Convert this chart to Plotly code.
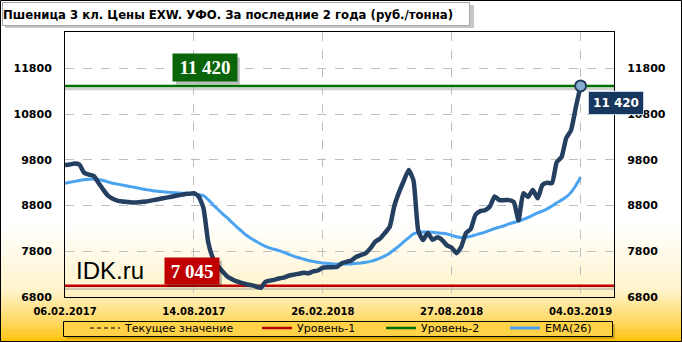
import plotly.graph_objects as go

# ---------------- data ----------------
tick_labels = ["06.02.2017", "14.08.2017", "26.02.2018", "27.08.2018", "04.03.2019"]
tick_index = [0, 27, 54, 81, 108]

price = [
    9690, 9700, 9720, 9700, 9520, 9480, 9450, 9300, 9150, 9020,
    8950, 8910, 8890, 8880, 8870, 8870, 8880, 8890, 8910, 8930,
    8950, 8970, 8990, 9010, 9030, 9050, 9060, 9070, 9000, 8750,
    8000, 7650, 7480, 7360, 7250, 7190, 7140, 7110, 7080, 7060,
    7030, 7000, 7130, 7160, 7180, 7210, 7230, 7270, 7290, 7310,
    7330, 7320, 7360, 7380, 7440, 7450, 7450, 7460, 7540, 7570,
    7600, 7680, 7720, 7760, 7870, 8010, 8080, 8200, 8330, 8800,
    9100, 9350, 9580, 9350, 8250, 8050, 8200, 8050, 8110, 8050,
    7930, 7880, 7760, 7900, 8200, 8290, 8600, 8680, 8700, 8780,
    9000, 8920, 8920, 8920, 8880, 8480, 9070, 8990, 9140, 8960,
    9250, 9300, 9290, 9750, 9860, 10280, 10450, 10950, 11420,
]

ema26 = [
    9290, 9310, 9330, 9350, 9365, 9375, 9380, 9370, 9350, 9320,
    9290, 9270, 9250, 9230, 9210, 9190, 9170, 9150, 9135, 9120,
    9110, 9100, 9090, 9080, 9075, 9070, 9060, 9050, 9040, 9020,
    8930, 8820, 8720, 8620, 8530, 8430, 8330, 8240, 8150, 8080,
    8020, 7960, 7910, 7870, 7840, 7810, 7770, 7730, 7690, 7660,
    7630, 7600, 7580, 7560, 7545, 7535, 7525, 7520, 7520, 7520,
    7525, 7535, 7545, 7560, 7580, 7610, 7650, 7700, 7760, 7840,
    7920, 8010, 8100, 8180, 8210, 8220, 8220, 8215, 8205, 8195,
    8180, 8150, 8120, 8100, 8110, 8130, 8160, 8190, 8220, 8260,
    8300, 8330, 8360, 8400, 8430, 8460, 8500, 8540, 8590, 8640,
    8680, 8730, 8790, 8860, 8920, 8990, 9090, 9240, 9420,
]

level_1 = 7045
level_2 = 11420
current_value = 11420

title_text = "Пшеница 3 кл. Цены EXW. УФО. За последние 2 года (руб./тонна)"

# ---------------- geometry ----------------
W, H = 682, 342
ML, MR, MT, MB = 65, 68, 32, 45
PW, PH = W - ML - MR, H - MT - MB
X_MIN, X_MAX = 0, 115
Y_MIN, Y_MAX = 6800, 12600


def px(x):
    return (x - ML) / PW


def py(y):
    return (H - MB - y) / PH


weeks = list(range(len(price)))
x_span = [X_MIN, X_MAX]

NAVY = "#243F60"
BLUE = "#4AA3F0"
RED = "#C00000"
GREEN = "#007000"

fig = go.Figure()

# level lines and current value
fig.add_trace(go.Scatter(x=x_span, y=[current_value] * 2, mode="lines",
                         line=dict(color="#000000", width=1, dash="4px,3px"),
                         name="Текущее значение", legendwidth=127, hoverinfo="skip"))
fig.add_trace(go.Scatter(x=x_span, y=[level_1] * 2, mode="lines",
                         line=dict(color=RED, width=2.5),
                         name="Уровень-1", legendwidth=79, hoverinfo="skip"))
fig.add_trace(go.Scatter(x=x_span, y=[level_2] * 2, mode="lines",
                         line=dict(color=GREEN, width=2.5),
                         name="Уровень-2", legendwidth=79, hoverinfo="skip"))
fig.add_trace(go.Scatter(x=weeks, y=ema26, mode="lines",
                         line=dict(color=BLUE, width=3, shape="spline", smoothing=0.6),
                         name="EMA(26)"))
fig.add_trace(go.Scatter(x=weeks, y=price, mode="lines",
                         line=dict(color=NAVY, width=4.5, shape="spline", smoothing=0.5),
                         name="Цена", showlegend=False))
fig.add_trace(go.Scatter(x=[weeks[-1]], y=[price[-1]], mode="markers",
                         marker=dict(size=11, color="#86ADD0",
                                     line=dict(color=NAVY, width=2)),
                         showlegend=False))
# right axis companion
fig.add_trace(go.Scatter(x=[weeks[0]], y=[None], yaxis="y2", showlegend=False,
                         mode="lines", hoverinfo="skip"))

shapes = []


# background gradient (white -> gold at the bottom)
def grad_color(t):
    stops = [(0.0, (255, 255, 255)), (0.55, (255, 244, 204)),
             (0.85, (255, 214, 90)), (1.0, (255, 192, 0))]
    for (t0, c0), (t1, c1) in zip(stops[:-1], stops[1:]):
        if t <= t1:
            f = (t - t0) / (t1 - t0)
            return "rgb(%d,%d,%d)" % tuple(round(a + (b - a) * f) for a, b in zip(c0, c1))
    return "rgb(255,192,0)"


G0, G1, N = 225, 342, 60
for i in range(N):
    ya = G0 + (G1 - G0) * i / N
    yb = G0 + (G1 - G0) * (i + 1) / N + 0.6
    shapes.append(dict(type="rect", xref="paper", yref="paper",
                       x0=px(0), x1=px(W), y0=py(ya), y1=py(yb),
                       fillcolor=grad_color((i + 0.5) / N), line=dict(width=0),
                       layer="below"))

# shadows under the level lines
for lv in (level_1, level_2):
    shapes.append(dict(type="line", xref="x", yref="y", x0=X_MIN, x1=X_MAX,
                       ysizemode="pixel", yanchor=lv, y0=-3, y1=-3,
                       line=dict(color="rgba(120,120,120,0.35)", width=2.5),
                       layer="below"))

# title box shadow + legend box shadow + borders
shapes.append(dict(type="rect", xref="paper", yref="paper",
                   x0=px(5), x1=px(474), y0=py(5), y1=py(28),
                   fillcolor="rgba(0,0,0,0.22)", line=dict(width=0), layer="below"))
shapes.append(dict(type="rect", xref="paper", yref="paper",
                   x0=px(66), x1=px(615), y0=py(324), y1=py(339),
                   fillcolor="rgba(90,60,0,0.25)", line=dict(width=0), layer="below"))
shapes.append(dict(type="rect", xref="paper", yref="paper",
                   x0=px(63.5), x1=px(612.5), y0=py(321.5), y1=py(336.5),
                   fillcolor=grad_color((328 - G0) / (G1 - G0)),
                   line=dict(color="#000000", width=1), layer="below"))
shapes.append(dict(type="rect", xref="paper", yref="paper",
                   x0=px(0.5), x1=px(W - 0.5), y0=py(0.5), y1=py(H - 0.5),
                   line=dict(color="#000000", width=1)))

annotations = []
# title
annotations.append(dict(xref="paper", yref="paper", x=px(2), y=py(2),
                        xanchor="left", yanchor="top", showarrow=False,
                        text="<b>" + title_text + "</b>", align="left",
                        width=466, height=22, borderpad=0,
                        bgcolor="#FFFFFF", bordercolor="#A6A6A6", borderwidth=1,
                        font=dict(family="DejaVu Sans Condensed, DejaVu Sans", size=13,
                                  color="#000000")))
# watermark
annotations.append(dict(xref="paper", yref="paper", x=px(74), y=py(270),
                        xanchor="left", yanchor="middle", showarrow=False,
                        text="IDK.ru",
                        font=dict(family="Liberation Sans, Arial", size=24, color="#000000")))


def boxed(x, y, text, bg, xs, ys, w, h, font):
    # soft drop shadow drawn as a pixel-sized shape anchored at the label point
    shapes.append(dict(type="rect", xref="x", yref="y",
                       xsizemode="pixel", xanchor=x,
                       x0=xs + 3 - w / 2 - 1, x1=xs + 3 + w / 2 + 1,
                       ysizemode="pixel", yanchor=y,
                       y0=ys - 3 - h / 2 - 1, y1=ys - 3 + h / 2 + 1,
                       fillcolor="rgba(0,0,0,0.25)", line=dict(width=0),
                       layer="above"))
    annotations.append(dict(x=x, y=y, xref="x", yref="y", showarrow=False,
                            text=text, xshift=xs, yshift=ys, width=w, height=h,
                            bgcolor=bg, font=font))


serif = dict(family="Liberation Serif, DejaVu Serif", size=19, color="#FFFFFF",
             weight="bold")
boxed(29.3, level_2, "11 420", "#0A640A", 0, 18, 62, 25, serif)
boxed(26.6, level_1, "7 045", RED, 0, 15, 52, 24, serif)
annotations.append(dict(x=weeks[-1], y=price[-1], xref="x", yref="y",
                        showarrow=False, text="11 420", xshift=35, yshift=-17,
                        width=52, height=20, bgcolor="#17375E",
                        bordercolor="#C9D6E6", borderwidth=1,
                        font=dict(family="DejaVu Sans", size=12, color="#FFFFFF",
                                  weight="bold")))

tickfont = dict(family="DejaVu Sans", size=11, color="#000000", weight="bold")

fig.update_layout(
    width=W, height=H,
    margin=dict(l=ML, r=MR, t=MT, b=MB, autoexpand=False),
    paper_bgcolor="#FFFFFF",
    plot_bgcolor="rgba(0,0,0,0)",
    showlegend=True,
    legend=dict(orientation="h", x=px(85), xanchor="left", y=py(328),
                yanchor="middle", bgcolor="rgba(0,0,0,0)", borderwidth=0,
                itemwidth=30, traceorder="normal",
                font=dict(family="DejaVu Sans", size=11, color="#000000")),
    xaxis=dict(range=[X_MIN, X_MAX], tickvals=tick_index, ticktext=tick_labels,
               showgrid=True, gridcolor="#BFBFBF", griddash="dash", gridwidth=1,
               zeroline=False, showline=True, linecolor="#000000", linewidth=1,
               mirror=True, ticks="outside", ticklen=5, tickcolor="rgba(0,0,0,0)",
               tickfont=dict(tickfont, size=10)),
    yaxis=dict(range=[Y_MIN, Y_MAX], tick0=6800, dtick=1000, tickformat="d",
               showgrid=True, gridcolor="#BFBFBF", griddash="dash", gridwidth=1,
               zeroline=False, showline=True, linecolor="#000000", linewidth=1,
               mirror=True, ticks="outside", ticklen=10, tickcolor="rgba(0,0,0,0)",
               tickfont=tickfont),
    yaxis2=dict(overlaying="y", side="right", matches="y", anchor="x",
                tick0=6800, dtick=1000, tickformat="d", showgrid=False,
                zeroline=False, showline=False, ticks="outside", ticklen=10,
                tickcolor="rgba(0,0,0,0)", tickfont=tickfont),
    shapes=shapes,
    annotations=annotations,
)

fig.write_html("out.html")
